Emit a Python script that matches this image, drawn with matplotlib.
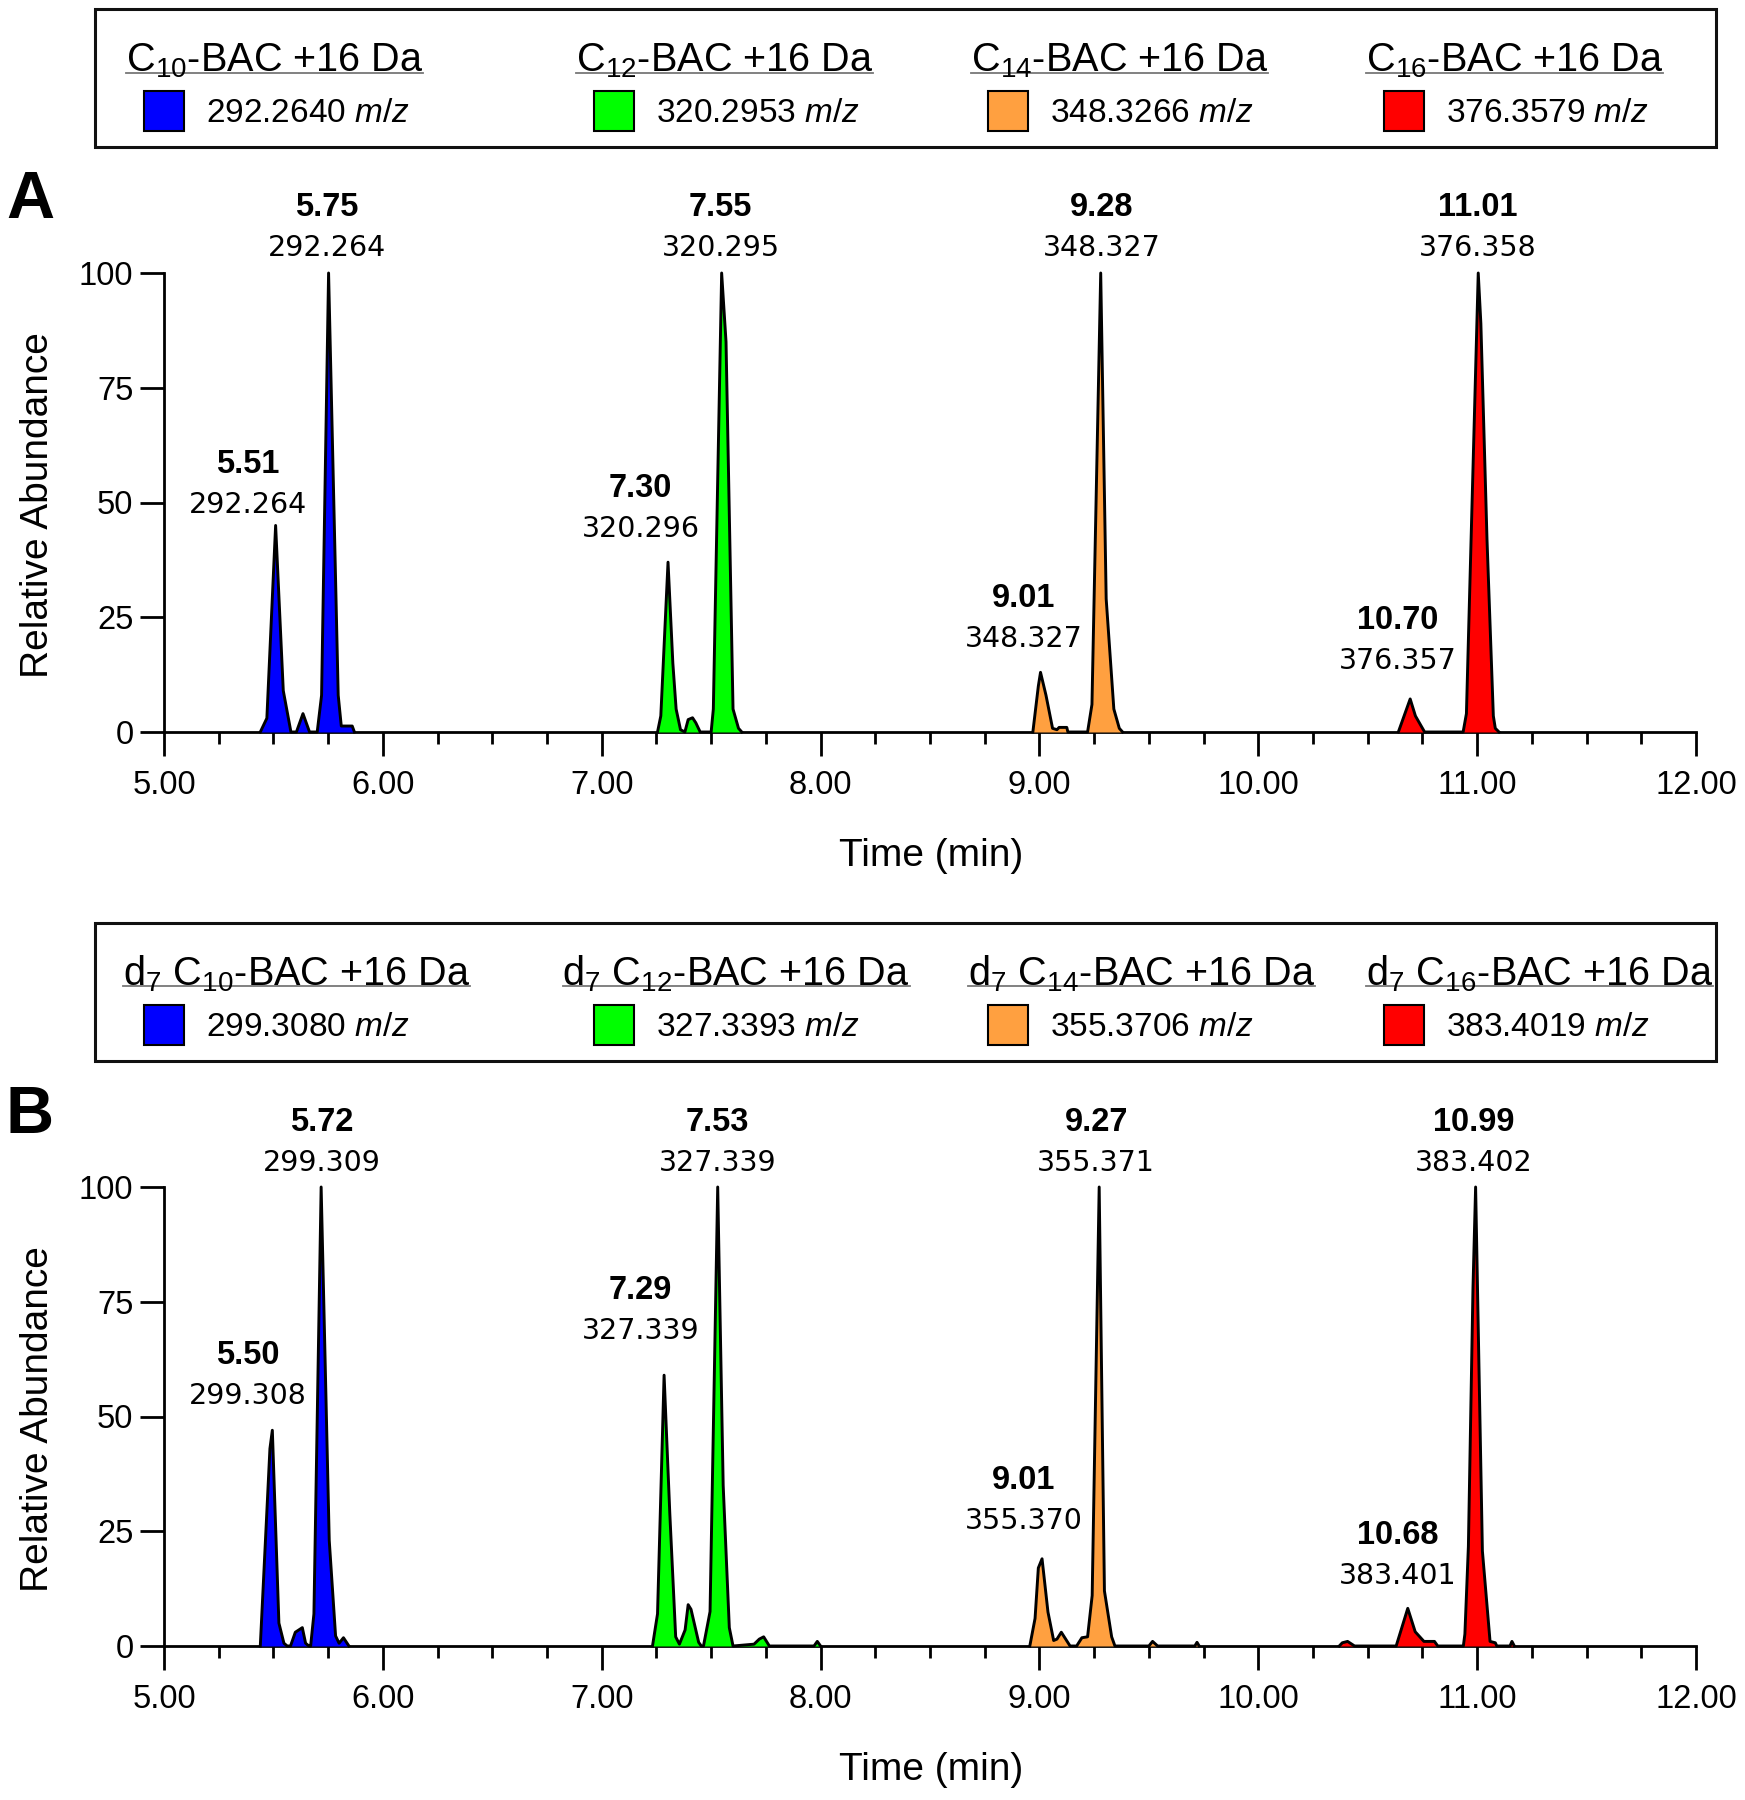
import numpy as np
import matplotlib
matplotlib.use("Agg")
import matplotlib.pyplot as plt
from matplotlib.patches import Rectangle
from matplotlib.lines import Line2D

plt.rcParams['font.family'] = ['Liberation Sans', 'DejaVu Sans']
plt.rcParams['mathtext.fontset'] = 'custom'
plt.rcParams['mathtext.rm'] = 'Liberation Sans'
plt.rcParams['mathtext.it'] = 'Liberation Sans:italic'
plt.rcParams['mathtext.bf'] = 'Liberation Sans:bold'
plt.rcParams['mathtext.default'] = 'regular'

# ---------------- data ----------------
colors = ['#0000FF', '#00FF00', '#FFA040', '#FF0000']

x_tick_values = [5, 6, 7, 8, 9, 10, 11, 12]
x_tick_labels = ['5.00', '6.00', '7.00', '8.00', '9.00', '10.00', '11.00', '12.00']
y_tick_values = [0, 25, 50, 75, 100]
y_tick_labels = ['0', '25', '50', '75', '100']

# Panel A traces
a_blue_t = [5.44, 5.47, 5.51, 5.545, 5.58, 5.605, 5.635, 5.665, 5.70, 5.72, 5.752, 5.796, 5.81, 5.86, 5.87]
a_blue_i = [0, 3, 45, 9, 0, 0, 4, 0, 0, 8, 100, 8, 1.3, 1.3, 0]
a_green_t = [7.255, 7.27, 7.303, 7.325, 7.34, 7.36, 7.38, 7.395, 7.415, 7.43, 7.45, 7.50, 7.51, 7.548, 7.568, 7.60, 7.625, 7.64]
a_green_i = [0, 3.5, 37, 15, 5, 0.5, 0, 2.7, 3.1, 2, 0, 0, 5, 100, 85, 5, 0.8, 0]
a_orange_t = [8.97, 8.995, 9.005, 9.03, 9.06, 9.08, 9.09, 9.125, 9.13, 9.22, 9.24, 9.28, 9.305, 9.34, 9.365, 9.38]
a_orange_i = [0, 10, 13, 8, 0.8, 0.5, 1, 1, 0, 0, 6, 100, 29, 5, 0.8, 0]
a_red_t = [10.64, 10.694, 10.718, 10.76, 10.936, 10.951, 11.005, 11.017, 11.045, 11.074, 11.083, 11.10]
a_red_i = [0, 7.2, 3.5, 0, 0, 4, 100, 89, 42, 3.5, 0.8, 0]

# Panel B traces
b_blue_t = [5.44, 5.484, 5.495, 5.525, 5.548, 5.563, 5.578, 5.60, 5.632, 5.647, 5.662, 5.67, 5.685, 5.718, 5.755, 5.784, 5.80, 5.82, 5.845]
b_blue_i = [0, 43, 47, 5, 0.6, 0, 0, 3, 4, 0.6, 0, 0, 7, 100, 23, 2.2, 0.6, 1.8, 0]
b_green_t = [7.232, 7.255, 7.285, 7.311, 7.338, 7.355, 7.381, 7.395, 7.408, 7.443, 7.455, 7.465, 7.495, 7.53, 7.555, 7.583, 7.60,
             7.696, 7.72, 7.74, 7.766, 7.97, 7.985, 8.0]
b_green_i = [0, 7, 59, 29, 2, 0.4, 3.5, 9, 8, 0.8, 0, 0, 7.5, 100, 35, 4, 0,
             0.4, 1.5, 2, 0, 0, 1, 0]
b_orange_t = [8.956, 8.98, 8.995, 9.012, 9.039, 9.065, 9.08, 9.10, 9.14, 9.17, 9.194, 9.22, 9.241, 9.273, 9.297, 9.33, 9.345,
              9.50, 9.517, 9.54, 9.71, 9.72, 9.73]
b_orange_i = [0, 6, 17, 19, 7.4, 1.2, 1.5, 3, 0, 0, 1.8, 2, 11, 100, 12, 2, 0,
              0, 1, 0, 0, 0.8, 0]
b_red_t = [10.37, 10.384, 10.408, 10.44, 10.63, 10.683, 10.717, 10.757, 10.805, 10.82, 10.937, 10.944, 10.96, 10.981, 10.993,
           11.024, 11.059, 11.083, 11.09, 11.15, 11.159, 11.17]
b_red_i = [0, 0.7, 1, 0, 0, 8.2, 3.1, 1, 1, 0, 0, 2.6, 21.7, 78, 100,
           20.7, 1, 0.7, 0, 0, 1, 0]

# Peak annotations
a_peak_rt = ['5.51', '5.75', '7.30', '7.55', '9.01', '9.28', '10.70', '11.01']
a_peak_mz = ['292.264', '292.264', '320.296', '320.295', '348.327', '348.327', '376.357', '376.358']
b_peak_rt = ['5.50', '5.72', '7.29', '7.53', '9.01', '9.27', '10.68', '10.99']
b_peak_mz = ['299.308', '299.309', '327.339', '327.339', '355.370', '355.371', '383.401', '383.402']

# Legend content
a_legend_titles = [r'C$_{10}$-BAC +16 Da', r'C$_{12}$-BAC +16 Da', r'C$_{14}$-BAC +16 Da', r'C$_{16}$-BAC +16 Da']
a_legend_mz = ['292.2640', '320.2953', '348.3266', '376.3579']
b_legend_titles = [r'd$_7$ C$_{10}$-BAC +16 Da', r'd$_7$ C$_{12}$-BAC +16 Da',
                   r'd$_7$ C$_{14}$-BAC +16 Da', r'd$_7$ C$_{16}$-BAC +16 Da']
b_legend_mz = ['299.3080', '327.3393', '355.3706', '383.4019']

# ---------------- layout (pixels, top-left origin) ----------------
W, H = 1745, 1800
a_label_x = [5.384, 5.745, 7.177, 7.544, 8.929, 9.285, 10.639, 11.005]
a_label_y = [49.4, 105.4, 44.2, 105.4, 20.2, 105.4, 15.4, 105.4]
b_label_x = [5.384, 5.719, 7.177, 7.529, 8.929, 9.259, 10.639, 10.985]
b_label_y = [54.5, 105.2, 68.7, 105.2, 27.2, 105.2, 15.2, 105.2]

fig = plt.figure(figsize=(W / 100, H / 100), dpi=100)


def fx(px):
    return px / W


def fy(py):
    return 1 - py / H


def make_axes(top_px, bottom_px):
    left, right = 164, 1696
    ax = fig.add_axes([fx(left), fy(bottom_px), (right - left) / W, (bottom_px - top_px) / H])
    ax.set_xlim(5, 12)
    ax.set_ylim(0, 100)
    for s in ['top', 'right']:
        ax.spines[s].set_visible(False)
    for s in ['left', 'bottom']:
        ax.spines[s].set_linewidth(2.0)
    ax.set_xticks(x_tick_values)
    ax.set_xticklabels(x_tick_labels)
    ax.set_xticks(np.arange(5, 12.001, 0.25), minor=True)
    ax.set_yticks(y_tick_values)
    ax.set_yticklabels(y_tick_labels)
    ax.tick_params(axis='x', which='major', length=17, width=2, pad=10.5, labelsize=23.5)
    ax.tick_params(axis='x', which='minor', length=8.5, width=2)
    ax.tick_params(axis='y', which='major', length=17, width=2, pad=5, labelsize=23.5)
    ax.patch.set_visible(False)
    return ax


def draw_traces(ax, traces):
    for (t, i), c in zip(traces, colors):
        ax.fill_between(t, i, 0, color=c, lw=0, zorder=3)
        ax.plot(t, i, color='black', lw=2.1, zorder=4, clip_on=False)


def draw_labels(ax, xs, ys, rts, mzs):
    for x, y, rt, mz in zip(xs, ys, rts, mzs):
        ax.text(x, y, mz, ha='center', va='center', fontsize=20.5,
                family='DejaVu Sans', clip_on=False, zorder=5)
        ax.text(x, y + 8.8, rt, ha='center', va='center', fontsize=23.5,
                fontweight='bold', clip_on=False, zorder=5)


def draw_legend(top_px, titles, mzs, title_x):
    box_l, box_r, box_h = 95, 1716, 138
    fig.add_artist(Rectangle((fx(box_l), fy(top_px + box_h)), (box_r - box_l) / W, box_h / H,
                             transform=fig.transFigure, fill=False, lw=2.2, ec='#111111'))
    sw_x = [143.5, 593.5, 988.5, 1384]
    txt_x = [205.5, 655.5, 1050, 1446]
    title_base = top_px + 62
    row_base = top_px + 113
    title_objs = []
    for k in range(4):
        tt = fig.text(fx(title_x[k]), fy(title_base), titles[k], fontsize=28.5,
                      ha='left', va='baseline')
        title_objs.append(tt)
        fig.add_artist(Rectangle((fx(sw_x[k]), fy(top_px + 82 + 40)), 40 / W, 40 / H,
                                 transform=fig.transFigure, fc=colors[k], ec='black', lw=1.5))
        fig.text(fx(txt_x[k]), fy(row_base), mzs[k] + r' $\mathit{m/z}$', fontsize=24,
                 ha='left', va='baseline')
    return title_objs, title_base


ax_a = make_axes(273, 732)
ax_b = make_axes(1187, 1646)

draw_traces(ax_a, [(a_blue_t, a_blue_i), (a_green_t, a_green_i), (a_orange_t, a_orange_i), (a_red_t, a_red_i)])
draw_traces(ax_b, [(b_blue_t, b_blue_i), (b_green_t, b_green_i), (b_orange_t, b_orange_i), (b_red_t, b_red_i)])
draw_labels(ax_a, a_label_x, a_label_y, a_peak_rt, a_peak_mz)
draw_labels(ax_b, b_label_x, b_label_y, b_peak_rt, b_peak_mz)

titles_a, base_a = draw_legend(9, a_legend_titles, a_legend_mz, [126, 576, 971, 1366])
titles_b, base_b = draw_legend(923, b_legend_titles, b_legend_mz, [123, 562.5, 968, 1366])

# axis labels and panel letters
for yc, yl in [(856, 505), (1770, 1419)]:
    fig.text(fx(931), fy(yc), 'Time (min)', fontsize=28, ha='center', va='center')
    fig.text(fx(38), fy(yl), 'Relative Abundance', fontsize=28, ha='center', va='center', rotation=90)
fig.text(fx(30), fy(201), 'A', fontsize=48, fontweight='bold', ha='center', va='center')
fig.text(fx(30), fy(1116), 'B', fontsize=48, fontweight='bold', ha='center', va='center')

# underline legend titles
fig.canvas.draw()
renderer = fig.canvas.get_renderer()
for objs, base in [(titles_a, base_a), (titles_b, base_b)]:
    for tt in objs:
        bb = tt.get_window_extent(renderer)
        yl = fy(base + 1.5)
        fig.add_artist(Line2D([bb.x0 / W, bb.x1 / W], [yl, yl], transform=fig.transFigure,
                              color='#777777', lw=1.3))

fig.savefig('out.png', dpi=100)
